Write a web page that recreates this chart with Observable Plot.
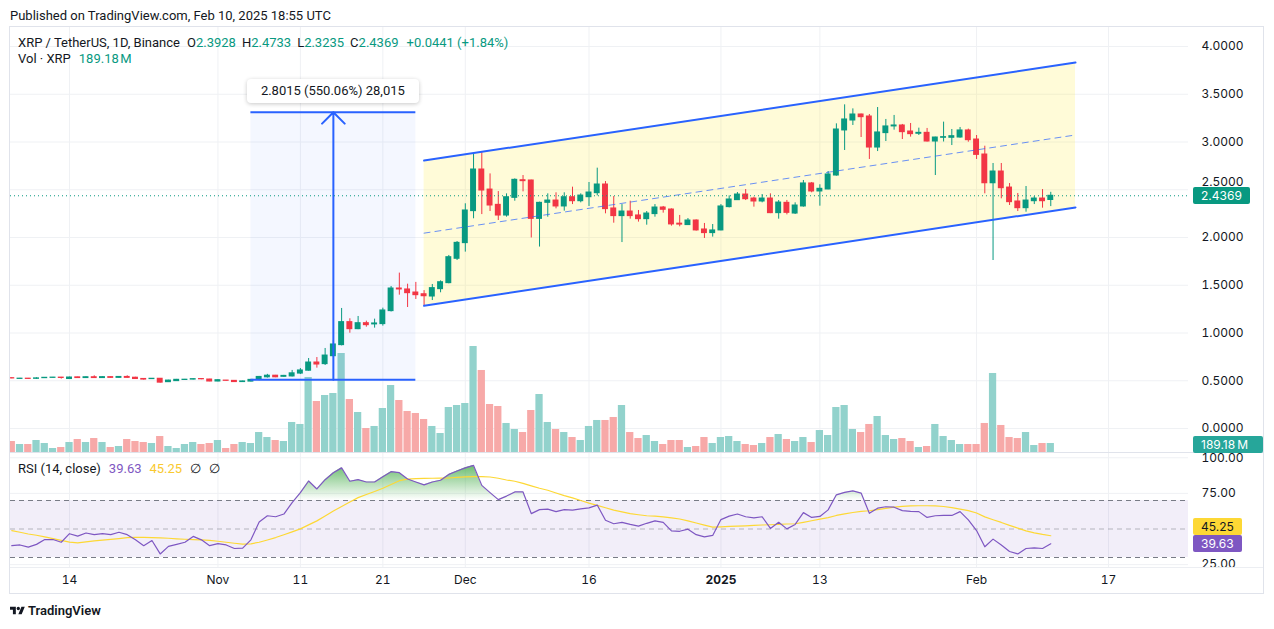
<!DOCTYPE html>
<html>
<head>
<meta charset="utf-8">
<script src="https://cdn.jsdelivr.net/npm/d3@7"></script>
<script src="https://cdn.jsdelivr.net/npm/@observablehq/plot@0.6"></script>
<style>
  html, body { margin: 0; background: #fff; }
  body { font-family: Roboto, "Noto Sans", sans-serif; color: #131722; }
  #chart { position: relative; width: 1274px; height: 629px; overflow: hidden; background: #fff; }
  .abs { position: absolute; }
  .layer svg { display: block; overflow: visible; }
  .legend { position: absolute; left: 18px; font-size: 13px; white-space: nowrap; line-height: 16px; }
  .val { color: #089981; }
  .tag { position: absolute; font-family: Inter, Roboto, sans-serif; font-size: 12px; line-height: 17px; height: 17px; padding-left: 8px; box-sizing: border-box; border-radius: 2px; }
</style>
</head>
<body>
<div id="chart"></div>
<script>
// XRP / TetherUS daily candles, Binance, 7 Oct 2024 to 10 Feb 2025
const firstDay = "2024-10-07";

const opens = [
  0.527, 0.519, 0.522, 0.520, 0.527, 0.530, 0.533,
  0.518, 0.536, 0.528, 0.537, 0.528, 0.538, 0.530, 0.540, 0.532, 0.519,
  0.517, 0.521, 0.485, 0.496, 0.508, 0.512, 0.518, 0.513, 0.492, 0.502,
  0.499, 0.486, 0.491, 0.508, 0.536, 0.553, 0.541, 0.545, 0.575, 0.605,
  0.691, 0.674, 0.757, 0.873, 1.114, 1.040, 1.103, 1.090, 1.093, 1.229,
  1.466, 1.456, 1.424, 1.406, 1.382, 1.459, 1.522, 1.777, 1.941, 2.276,
  2.712, 2.502, 2.342, 2.230, 2.415, 2.600, 2.597, 2.195, 2.363, 2.387,
  2.325, 2.422, 2.380, 2.422, 2.464, 2.555, 2.304, 2.224, 2.272, 2.231,
  2.192, 2.245, 2.314, 2.293, 2.145, 2.130, 2.178, 2.084, 2.046, 2.074,
  2.318, 2.391, 2.450, 2.408, 2.377, 2.408, 2.255, 2.363, 2.251, 2.325,
  2.566, 2.482, 2.503, 2.649, 3.121, 3.225, 3.288, 3.267, 2.942, 3.093,
  3.163, 3.173, 3.110, 3.086, 3.096, 3.005, 3.044, 3.044, 3.047, 3.121,
  3.026, 2.869, 2.568, 2.691, 2.523, 2.377, 2.307, 2.380, 2.408, 2.3928
];
const highs = [
  0.530, 0.525, 0.524, 0.531, 0.534, 0.535, 0.535,
  0.538, 0.538, 0.541, 0.552, 0.541, 0.541, 0.542, 0.552, 0.536, 0.521,
  0.523, 0.523, 0.505, 0.514, 0.514, 0.520, 0.520, 0.515, 0.510, 0.503,
  0.501, 0.496, 0.512, 0.545, 0.567, 0.556, 0.556, 0.608, 0.628, 0.733,
  0.743, 0.838, 0.922, 1.257, 1.149, 1.173, 1.124, 1.145, 1.260, 1.487,
  1.627, 1.511, 1.530, 1.444, 1.508, 1.546, 1.812, 1.958, 2.353, 2.876,
  2.900, 2.666, 2.481, 2.457, 2.614, 2.649, 2.600, 2.370, 2.457, 2.468,
  2.468, 2.527, 2.457, 2.576, 2.726, 2.586, 2.429, 2.345, 2.380, 2.283,
  2.272, 2.345, 2.325, 2.300, 2.231, 2.199, 2.185, 2.147, 2.136, 2.345,
  2.436, 2.471, 2.502, 2.422, 2.450, 2.457, 2.387, 2.388, 2.363, 2.597,
  2.576, 2.552, 2.691, 3.190, 3.389, 3.347, 3.292, 3.288, 3.361, 3.236,
  3.278, 3.184, 3.194, 3.145, 3.142, 3.050, 3.208, 3.131, 3.152, 3.135,
  3.068, 2.956, 2.775, 2.775, 2.565, 2.461, 2.534, 2.429, 2.502, 2.4733
];
const lows = [
  0.521, 0.516, 0.515, 0.515, 0.524, 0.528, 0.517,
  0.516, 0.524, 0.526, 0.525, 0.525, 0.527, 0.527, 0.527, 0.515, 0.507,
  0.514, 0.476, 0.482, 0.494, 0.505, 0.509, 0.511, 0.490, 0.489, 0.496,
  0.483, 0.483, 0.488, 0.500, 0.528, 0.532, 0.537, 0.540, 0.565, 0.600,
  0.632, 0.660, 0.745, 0.865, 0.998, 1.035, 1.061, 1.051, 1.072, 1.220,
  1.396, 1.267, 1.351, 1.285, 1.340, 1.421, 1.515, 1.759, 1.847, 2.196,
  2.240, 2.272, 2.178, 2.213, 2.380, 2.478, 1.995, 1.900, 2.213, 2.300,
  2.276, 2.345, 2.363, 2.325, 2.436, 2.248, 2.150, 1.947, 2.192, 2.161,
  2.129, 2.213, 2.255, 2.119, 2.112, 2.128, 2.067, 1.990, 2.004, 2.070,
  2.310, 2.390, 2.387, 2.318, 2.363, 2.250, 2.192, 2.237, 2.241, 2.318,
  2.468, 2.328, 2.500, 2.642, 2.911, 3.173, 3.047, 2.817, 2.900, 3.005,
  3.124, 3.026, 3.051, 3.068, 3.000, 2.649, 3.000, 2.963, 3.040, 2.998,
  2.817, 2.457, 1.759, 2.405, 2.335, 2.272, 2.265, 2.345, 2.307, 2.3235
];
const closes = [
  0.524, 0.522, 0.519, 0.525, 0.531, 0.533, 0.529,
  0.534, 0.528, 0.537, 0.528, 0.538, 0.530, 0.540, 0.530, 0.518, 0.512,
  0.521, 0.480, 0.502, 0.510, 0.511, 0.517, 0.515, 0.492, 0.506, 0.499,
  0.486, 0.493, 0.5093, 0.540, 0.553, 0.536, 0.551, 0.578, 0.608, 0.691,
  0.670, 0.764, 0.880, 1.114, 1.040, 1.103, 1.082, 1.100, 1.236, 1.466,
  1.456, 1.417, 1.396, 1.385, 1.470, 1.532, 1.794, 1.944, 2.283, 2.712,
  2.492, 2.335, 2.230, 2.422, 2.604, 2.590, 2.195, 2.363, 2.387, 2.325,
  2.422, 2.380, 2.439, 2.471, 2.555, 2.297, 2.224, 2.272, 2.224, 2.192,
  2.251, 2.314, 2.290, 2.137, 2.135, 2.178, 2.074, 2.046, 2.074, 2.325,
  2.398, 2.450, 2.401, 2.377, 2.408, 2.255, 2.366, 2.258, 2.335, 2.566,
  2.482, 2.510, 2.660, 3.131, 3.236, 3.288, 3.260, 2.942, 3.100, 3.163,
  3.173, 3.103, 3.082, 3.096, 3.005, 3.047, 3.051, 3.061, 3.121, 3.019,
  2.865, 2.568, 2.691, 2.516, 2.370, 2.307, 2.387, 2.408, 2.380, 2.4369
];
// daily volume, millions of XRP
const volumes = [
  231, 168, 168, 252, 189, 84, 105,
  210, 273, 210, 294, 210, 105, 126, 273, 231, 210,
  189, 336, 126, 84, 168, 210, 168, 189, 252, 84,
  168, 210, 189, 420, 315, 252, 231, 631, 589, 1577,
  1072, 1198, 1240, 2081, 1114, 841, 504, 547, 925, 1408,
  1093, 862, 820, 694, 547, 399, 946, 988, 1030, 2228,
  1724, 1009, 967, 610, 483, 420, 883, 1219, 631, 483,
  420, 315, 252, 547, 673, 673, 736, 988, 420, 294,
  357, 231, 168, 252, 252, 105, 126, 315, 189, 315,
  336, 231, 168, 147, 189, 315, 378, 273, 231, 315,
  210, 462, 357, 946, 988, 483, 420, 589, 757, 357,
  273, 294, 231, 105, 126, 589, 336, 252, 168, 168,
  168, 610, 1661, 568, 315, 294, 420, 147, 189, 189.18
];
// RSI (14, close) and its 14-period moving average
const rsiValues = [
  38.3, 38.8, 37.3, 39.2, 42.6, 42.6, 40.7,
  46.7, 45.0, 47.2, 46.0, 46.7, 46.0, 47.7, 46.0, 42.4, 38.3,
  41.9, 32.5, 37.8, 39.2, 40.7, 44.8, 42.4, 38.3, 39.7, 38.8,
  36.3, 36.6, 42.4, 54.9, 59.3, 58.6, 60.5, 68.5, 75.5, 83.7,
  78.1, 84.6, 89.5, 92.9, 83.5, 84.6, 83.0, 83.0, 86.6, 90.2,
  89.5, 85.1, 83.0, 81.0, 83.0, 84.2, 88.3, 90.7, 92.9, 94.6,
  80.6, 75.5, 70.6, 73.1, 76.0, 76.0, 60.8, 63.6, 63.9, 62.2,
  63.6, 63.2, 64.1, 64.8, 66.8, 56.1, 53.7, 54.7, 53.2, 52.0,
  54.0, 55.7, 54.7, 48.7, 48.4, 49.9, 46.0, 44.5, 45.5, 56.6,
  59.0, 60.5, 58.6, 57.8, 58.6, 50.4, 54.7, 50.1, 53.2, 61.5,
  58.1, 58.8, 63.4, 74.0, 75.7, 76.7, 75.2, 61.0, 64.6, 65.6,
  65.3, 62.9, 62.4, 62.2, 58.1, 59.3, 59.5, 59.5, 62.2, 56.4,
  48.9, 37.5, 42.9, 38.8, 34.2, 32.5, 36.3, 36.8, 36.3, 39.63
];
const rsiMaValues = [
  48.9, 47.7, 46.5, 45.6, 44.5, 43.3, 42.0,
  40.8, 40.2, 41.0, 41.7, 42.2, 42.7, 43.3, 43.9, 44.1, 44.1,
  44.0, 43.8, 43.5, 43.1, 42.8, 42.6, 42.3, 42.0, 41.4, 40.7,
  40.0, 39.4, 39.6, 40.7, 42.3, 44.0, 46.0, 48.0, 50.1, 52.9,
  55.7, 59.2, 62.6, 65.8, 69.0, 72.0, 74.2, 76.3, 78.6, 81.2,
  83.9, 85.0, 85.4, 85.5, 85.6, 85.7, 85.8, 86.2, 86.6, 86.8,
  86.7, 86.5, 85.6, 84.4, 83.5, 82.0, 80.3, 78.6, 77.2, 75.3,
  73.4, 71.8, 70.0, 68.2, 66.6, 64.9, 63.2, 62.0, 60.8, 60.0,
  59.3, 59.0, 58.5, 57.8, 57.0, 55.7, 54.2, 52.7, 51.3, 51.5,
  51.8, 52.0, 52.2, 52.5, 52.8, 53.0, 53.2, 53.5, 53.7, 54.7,
  55.8, 56.9, 58.0, 59.5, 60.6, 61.6, 62.4, 62.8, 63.6, 64.5,
  65.3, 65.9, 66.2, 66.3, 66.3, 66.2, 65.8, 65.0, 64.0, 62.9,
  61.2, 58.5, 56.5, 54.6, 52.5, 50.6, 48.7, 47.3, 46.2, 45.25
];

// time axis ticks
const tickDates = ["2024-10-14", "2024-11-01", "2024-11-11", "2024-11-21", "2024-12-01",
                   "2024-12-16", "2025-01-01", "2025-01-13", "2025-02-01", "2025-02-17"];
const tickLabels = ["14", "Nov", "11", "21", "Dec", "16", "2025", "13", "Feb", "17"];
const priceTicks = [0, 0.5, 1, 1.5, 2, 2.5, 3, 3.5, 4];
const rsiTicks = [100, 75, 25];

// parallel channel drawing
const channelDates = ["2024-11-26", "2025-02-13"];
const channelLower = [1.285, 2.315];
const channelUpper = [2.806, 3.832];

// date & price range measurement
const measureDates = ["2024-11-05", "2024-11-25"];
const measurePrices = [0.5093, 3.3108];
const measureText = "2.8015 (550.06%) 28,015";

// ---------------------------------------------------------------
const AXIS_FONT = 'Inter, Roboto, "Noto Sans", sans-serif';
const UP = "#089981", DOWN = "#f23645";
const VOL_UP = "#92d2cc", VOL_DOWN = "#f7a9a8";
const BLUE = "#2962ff";
const GRID = "#eff1f4";
const DAY = 864e5;

const t0 = Date.parse(firstDay + "T00:00:00Z");
const days = opens.map((open, i) => ({
  date: new Date(t0 + i * DAY),
  open, high: highs[i], low: lows[i], close: closes[i],
  volume: volumes[i], rsi: rsiValues[i], rsiMa: rsiMaValues[i],
  up: closes[i] >= open
}));
const ticks = tickDates.map(s => new Date(s));
const labelOf = new Map(ticks.map((d, i) => [+d, tickLabels[i]]));
const channel = channelDates.map((s, i) => ({date: new Date(s), lower: channelLower[i], upper: channelUpper[i]}));
const mStart = new Date(measureDates[0]), mEnd = new Date(measureDates[1]);
const mMid = new Date((+mStart + +mEnd) / 2);
const [mLow, mHigh] = measurePrices;
const last = days[days.length - 1];

const W = 1253, PANE_W = 1178, MAIN_H = 425, RSI_H = 140, AXIS_H = 26;
const LEFT = 10, MAIN_TOP = 27, RSI_TOP = 453;
const TAG_H = 17;

const xOpt = {type: "utc", domain: [ticks[0], ticks[ticks.length - 1]], range: [59, 1098], axis: null};
const style = {background: "transparent", fontFamily: AXIS_FONT, fontSize: "12px", color: "#131722", overflow: "visible"};
const base = {width: W, marginLeft: 0, marginRight: W - PANE_W, marginTop: 0, marginBottom: 0, x: xOpt, style};
const priceY = {domain: [0, 4], range: [401, 19], axis: null};

const root = document.getElementById("chart");
function place(node, left, top) {
  const wrap = document.createElement("div");
  wrap.className = "abs layer";
  wrap.style.left = left + "px";
  wrap.style.top = top + "px";
  wrap.appendChild(node);
  root.appendChild(wrap);
  return node;
}
function html(tag, cls, css, text) {
  const el = document.createElement(tag);
  if (cls) el.className = cls;
  Object.assign(el.style, css || {});
  if (text != null) el.textContent = text;
  root.appendChild(el);
  return el;
}

// chart frame
html("div", "abs", {left: "9px", top: "26px", width: "1255px", height: "568px", border: "1px solid #e0e3eb", boxSizing: "border-box"});

// grid + price scale
const gridPlot = place(Plot.plot({
  ...base, height: MAIN_H, y: priceY,
  marks: [
    Plot.ruleX(ticks, {stroke: GRID}),
    Plot.ruleY(priceTicks, {stroke: GRID}),
    Plot.axisY(priceTicks, {anchor: "right", tickSize: 0, tickPadding: 13, tickFormat: d => d.toFixed(4), fill: "#131722"})
  ]
}), LEFT, MAIN_TOP);

// volume overlay
const volPlot = place(Plot.plot({
  ...base, height: MAIN_H,
  y: {domain: [0, 8934], range: [MAIN_H, 0], axis: null},
  marks: [
    Plot.rect(days, {
      x1: d => new Date(+d.date - 0.44 * DAY), x2: d => new Date(+d.date + 0.44 * DAY),
      y1: 0, y2: "volume", fill: d => d.up ? VOL_UP : VOL_DOWN, clip: true
    })
  ]
}), LEFT, MAIN_TOP);

// drawings, candles and last price line
const pricePlot = place(Plot.plot({
  ...base, height: MAIN_H, y: priceY,
  marks: [
    Plot.areaY(channel, {x: "date", y1: "lower", y2: "upper", fill: "rgba(255, 235, 59, 0.2)"}),
    Plot.rect([0], {x1: () => mStart, x2: () => mEnd, y1: () => mLow, y2: () => mHigh, fill: "rgba(41, 98, 255, 0.05)"}),
    Plot.ruleX(days, {x: "date", y1: "low", y2: "high", stroke: d => d.up ? UP : DOWN, clip: true}),
    Plot.rect(days, {
      x1: d => new Date(+d.date - 0.36 * DAY), x2: d => new Date(+d.date + 0.36 * DAY),
      y1: "open", y2: "close", fill: d => d.up ? UP : DOWN, insetTop: -0.5, insetBottom: -0.5, clip: true
    }),
    Plot.line(channel, {x: "date", y: "upper", stroke: BLUE, strokeWidth: 2}),
    Plot.line(channel, {x: "date", y: "lower", stroke: BLUE, strokeWidth: 2}),
    Plot.line(channel, {x: "date", y: d => (d.lower + d.upper) / 2, stroke: BLUE, strokeOpacity: 0.7, strokeWidth: 1, strokeDasharray: "6,5"}),
    Plot.ruleY(measurePrices, {y: d => d, x1: () => mStart, x2: () => mEnd, stroke: BLUE, strokeWidth: 2}),
    Plot.arrow([0], {x1: () => mMid, x2: () => mMid, y1: () => mLow, y2: () => mHigh, stroke: BLUE, strokeWidth: 2, headLength: 12, headAngle: 90}),
    Plot.ruleY([last.close], {stroke: UP, strokeWidth: 1, strokeDasharray: "1,3"})
  ]
}), LEFT, MAIN_TOP);

// RSI pane with the time axis below it
const rsiPlot = place(Plot.plot({
  ...base, height: RSI_H, marginBottom: AXIS_H,
  y: {domain: [30, 70], range: [104, 47], axis: null},
  marks: [
    Plot.ruleX(ticks, {stroke: GRID}),
    Plot.ruleY(rsiTicks, {stroke: GRID}),
    Plot.rect([0], {y1: () => 30, y2: () => 70, fill: "rgba(126, 87, 194, 0.1)"}),
    Plot.ruleY([70, 30], {stroke: "#787b86", strokeDasharray: "5,4"}),
    Plot.ruleY([50], {stroke: "#787b86", strokeOpacity: 0.5, strokeDasharray: "5,4"}),
    Plot.areaY(days, {x: "date", y1: 70, y2: "rsi", fill: "url(#obGrad)", clip: true}),
    Plot.line(days, {x: "date", y: "rsiMa", stroke: "#fdd835", strokeWidth: 1.2, clip: true}),
    Plot.line(days, {x: "date", y: "rsi", stroke: "#7e57c2", strokeWidth: 1.2, clip: true}),
    Plot.axisY(rsiTicks, {anchor: "right", tickSize: 0, tickPadding: 13, tickFormat: d => d.toFixed(2), fill: "#131722"}),
    Plot.axisX(ticks, {tickSize: 0, tickPadding: 8, tickFormat: d => labelOf.get(+d), fill: "#131722"})
  ]
}), LEFT, RSI_TOP);

// overbought gradient, opaque at 100 and fading out at 70
{
  const ry = rsiPlot.scale("y");
  const defs = d3.select(rsiPlot).insert("defs", ":first-child");
  const g = defs.append("linearGradient").attr("id", "obGrad")
    .attr("gradientUnits", "userSpaceOnUse")
    .attr("x1", 0).attr("x2", 0).attr("y1", ry.apply(100)).attr("y2", ry.apply(70));
  g.append("stop").attr("offset", 0).attr("stop-color", "#4caf50").attr("stop-opacity", 1);
  g.append("stop").attr("offset", 1).attr("stop-color", "#4caf50").attr("stop-opacity", 0);
  d3.select(rsiPlot).selectAll("text").filter(function () { return this.textContent === "2025"; })
    .attr("font-weight", "bold");
}

// pane separators
html("div", "abs", {left: "10px", top: "452px", width: "1253px", height: "1px", background: "#e0e3eb"});
html("div", "abs", {left: "10px", top: "567px", width: "1253px", height: "1px", background: "#eceef2"});

// header
html("div", "abs", {left: "10px", top: "8px", fontSize: "13px", lineHeight: "16px", whiteSpace: "nowrap"},
  "Published on TradingView.com, Feb 10, 2025 18:55 UTC");

const fmt = v => v.toFixed(4);
const leg1 = html("div", "legend", {top: "35px"});
leg1.innerHTML =
  `<span>XRP / TetherUS, 1D, Binance</span>` +
  `<span style="margin-left:7px">O</span><span class="val">${fmt(last.open)}</span>` +
  `<span style="margin-left:6px">H</span><span class="val">${fmt(last.high)}</span>` +
  `<span style="margin-left:6px">L</span><span class="val">${fmt(last.low)}</span>` +
  `<span style="margin-left:6px">C</span><span class="val">${fmt(last.close)}</span>` +
  `<span class="val" style="margin-left:8px">+0.0441 (+1.84%)</span>`;
const leg2 = html("div", "legend", {top: "51px"});
leg2.innerHTML = `<span>Vol · XRP</span><span class="val" style="margin-left:8px">${last.volume.toFixed(2)}\u202FM</span>`;
const leg3 = html("div", "legend", {top: "461px"});
leg3.innerHTML =
  `<span>RSI (14, close)</span>` +
  `<span style="margin-left:8px;color:#7e57c2">${last.rsi.toFixed(2)}</span>` +
  `<span style="margin-left:8px;color:#f9c92f">${last.rsiMa.toFixed(2)}</span>` +
  `<span style="margin-left:8px">\u2205</span><span style="margin-left:8px">\u2205</span>`;

// scale labels on the right
const sy = pricePlot.scale("y"), sx = pricePlot.scale("x");
const vy = volPlot.scale("y"), ry = rsiPlot.scale("y");
const TAG_LEFT = 1193;
const pY = MAIN_TOP + sy.apply(last.close);
const priceTag = html("div", "tag", {left: TAG_LEFT + "px", top: (pY - TAG_H / 2) + "px", width: "57px", background: UP, color: "#fff"}, fmt(last.close));
const vY = MAIN_TOP + vy.apply(last.volume);
html("div", "tag", {left: TAG_LEFT + "px", top: (vY - 7) + "px", width: "70px", background: "#26a69a", color: "#fff"}, last.volume.toFixed(2) + "\u202FM");
const rY = RSI_TOP + ry.apply(last.rsi);
const maY = Math.min(RSI_TOP + ry.apply(last.rsiMa), rY - TAG_H);
html("div", "tag", {left: TAG_LEFT + "px", top: (maY - TAG_H / 2) + "px", width: "49px", background: "#fdd835", color: "#131722"}, last.rsiMa.toFixed(2));
html("div", "tag", {left: TAG_LEFT + "px", top: (rY - TAG_H / 2) + "px", width: "49px", background: "#7e57c2", color: "#fff"}, last.rsi.toFixed(2));

// a price-scale label under the last-price tag is lifted to sit just above it
{
  const tagBox = priceTag.getBoundingClientRect();
  d3.select(gridPlot).selectAll("text").each(function () {
    const b = this.getBoundingClientRect();
    if (b.width > 0 && b.bottom > tagBox.top && b.top < tagBox.bottom && b.right > tagBox.left) {
      const shift = tagBox.top - b.bottom + 2;
      const tr = this.getAttribute("transform") || "";
      this.setAttribute("transform", `${tr} translate(0,${shift})`.trim());
    }
  });
}

// measurement readout above the range box
const mx = LEFT + sx.apply(mMid);
const myTop = MAIN_TOP + sy.apply(mHigh);
html("div", "abs", {
  left: (mx - 86) + "px", top: (myTop - 33) + "px", width: "172px", height: "24px", lineHeight: "24px",
  textAlign: "center", fontSize: "13px", background: "#fff", borderRadius: "4px",
  boxShadow: "0 1px 4px rgba(0,0,0,0.22)", whiteSpace: "nowrap"
}, measureText);

// TradingView mark
const logo = html("div", "abs", {left: "10px", top: "603px", display: "flex", alignItems: "center", fontSize: "13px", fontWeight: "600", whiteSpace: "nowrap"});
logo.innerHTML =
  `<svg width="15" height="12" viewBox="0 0 36 28" style="margin-right:3px"><path fill="#131722" d="M14 22H7V11H0V4h14v18zM28 22h-8l7.5-18h8L28 22z"/><circle fill="#131722" cx="20" cy="8" r="4"/></svg>` +
  `<span>TradingView</span>`;
</script>
</body>
</html>
